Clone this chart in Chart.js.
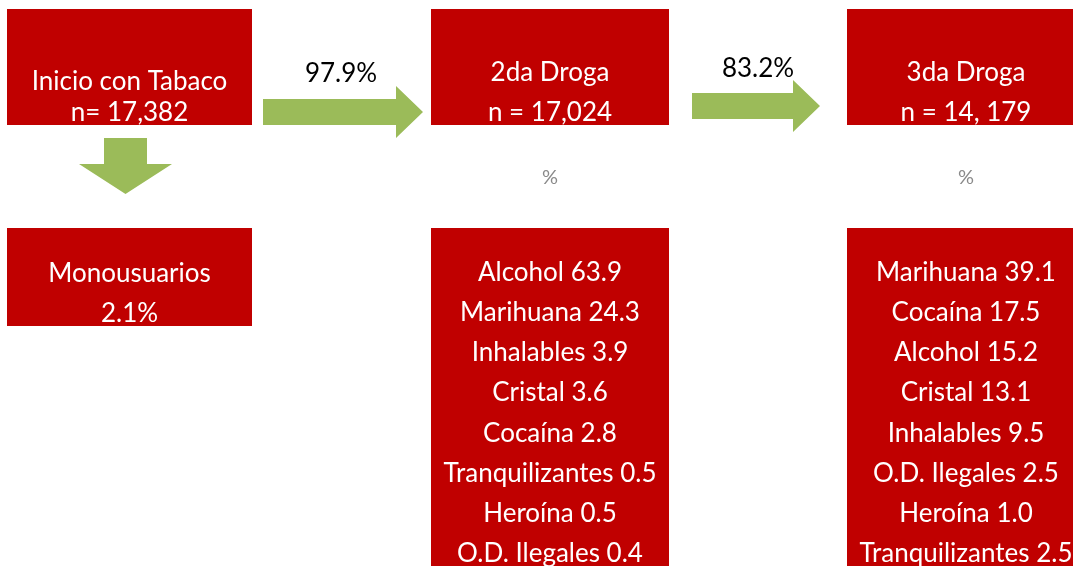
<!DOCTYPE html>
<html>
<head>
<meta charset="utf-8">
<script src="https://cdn.jsdelivr.net/npm/chart.js@4.4.0/dist/chart.umd.min.js"></script>
<style>
  html, body { margin: 0; padding: 0; background: #fff; }
  #wrap { width: 1073px; height: 566px; position: relative; }
</style>
</head>
<body>
<div id="wrap"><canvas id="flow"></canvas></div>
<script>
// data
const startTitle = 'Inicio con Tabaco';
const startN = 'n= 17,382';
const monoTitle = 'Monousuarios';
const monoPct = 2.1;
const stepPct = [97.9, 83.2];
const stageTitles = ['2da Droga', '3da Droga'];
const stageN = ['n = 17,024', 'n = 14, 179'];
const secondDrugs = ['Alcohol', 'Marihuana', 'Inhalables', 'Cristal', 'Cocaína', 'Tranquilizantes', 'Heroína', 'O.D. Ilegales'];
const secondPct = [63.9, 24.3, 3.9, 3.6, 2.8, 0.5, 0.5, 0.4];
const thirdDrugs = ['Marihuana', 'Cocaína', 'Alcohol', 'Cristal', 'Inhalables', 'O.D. Ilegales', 'Heroína', 'Tranquilizantes'];
const thirdPct = [39.1, 17.5, 15.2, 13.1, 9.5, 2.5, 1.0, 2.5];

const RED = '#C00000';
const GREEN = '#9BBB59';
const FONT = 'Lato, "Noto Sans", sans-serif';
const FS = 26;

function fmt(v) { return v.toFixed(1); }

const flowPlugin = {
  id: 'flow',
  afterDraw(chart) {
    const ctx = chart.ctx;
    const X = v => chart.scales.x.getPixelForValue(v);
    const Y = v => chart.scales.y.getPixelForValue(v);

    function box(x0, y0, x1, y1) {
      ctx.fillStyle = RED;
      ctx.fillRect(X(x0), Y(y0), X(x1) - X(x0), Y(y1) - Y(y0));
    }
    function text(str, x, y, size, color) {
      ctx.fillStyle = color;
      ctx.font = size + 'px ' + FONT;
      ctx.textAlign = 'center';
      ctx.textBaseline = 'middle';
      ctx.fillText(str, X(x), Y(y + 1.5));
    }
    function arrowRight(x0, x1, xh, yb0, yb1, yh0, yh1) {
      ctx.fillStyle = GREEN;
      ctx.beginPath();
      ctx.moveTo(X(x0), Y(yb0));
      ctx.lineTo(X(xh), Y(yb0));
      ctx.lineTo(X(xh), Y(yh0));
      ctx.lineTo(X(x1), Y((yh0 + yh1) / 2));
      ctx.lineTo(X(xh), Y(yh1));
      ctx.lineTo(X(xh), Y(yb1));
      ctx.lineTo(X(x0), Y(yb1));
      ctx.closePath();
      ctx.fill();
    }
    function arrowDown(xb0, xb1, xh0, xh1, y0, yh, y1) {
      ctx.fillStyle = GREEN;
      ctx.beginPath();
      ctx.moveTo(X(xb0), Y(y0));
      ctx.lineTo(X(xb1), Y(y0));
      ctx.lineTo(X(xb1), Y(yh));
      ctx.lineTo(X(xh1), Y(yh));
      ctx.lineTo(X((xh0 + xh1) / 2), Y(y1));
      ctx.lineTo(X(xh0), Y(yh));
      ctx.lineTo(X(xb0), Y(yh));
      ctx.closePath();
      ctx.fill();
    }

    ctx.save();
    // top row
    box(7, 9, 252, 125);
    text(startTitle, 129.5, 80, FS, '#fff');
    text(startN, 129.5, 111, FS, '#fff');

    box(431, 9, 669, 125);
    text(stageTitles[0], 550, 71, FS, '#fff');
    text(stageN[0], 550, 111, FS, '#fff');

    box(847, 9, 1090, 125);
    text(stageTitles[1], 966, 71, FS, '#fff');
    text(stageN[1], 966, 111, FS, '#fff');

    arrowRight(263, 423, 396, 99, 125, 86, 138);
    text(fmt(stepPct[0]) + '%', 341, 72, FS, '#000');
    arrowRight(692, 820, 793, 93, 119, 80, 132);
    text(fmt(stepPct[1]) + '%', 758, 67, FS, '#000');

    arrowDown(104, 147, 79, 172, 138, 164, 194);

    text('%', 550, 176, 20, '#8a8a8a');
    text('%', 966, 176, 20, '#8a8a8a');

    // bottom row
    box(7, 228, 252, 326);
    text(monoTitle, 129.5, 272, FS, '#fff');
    text(fmt(monoPct) + '%', 129.5, 312, FS, '#fff');

    box(431, 228, 669, 566);
    secondDrugs.forEach((d, i) => text(d + ' ' + fmt(secondPct[i]), 550, 271 + i * 40.2, FS, '#fff'));

    box(847, 228, 1090, 566);
    thirdDrugs.forEach((d, i) => text(d + ' ' + fmt(thirdPct[i]), 966, 271 + i * 40.2, FS, '#fff'));
    ctx.restore();
  }
};

new Chart(document.getElementById('flow'), {
  type: 'scatter',
  data: { datasets: [{ data: [], pointRadius: 0 }] },
  options: {
    responsive: true,
    maintainAspectRatio: false,
    animation: false,
    layout: { padding: 0 },
    plugins: { legend: { display: false }, tooltip: { enabled: false } },
    scales: {
      x: { type: 'linear', min: 0, max: 1073, display: false },
      y: { type: 'linear', min: 0, max: 566, reverse: true, display: false }
    }
  },
  plugins: [flowPlugin]
});
</script>
</body>
</html>
